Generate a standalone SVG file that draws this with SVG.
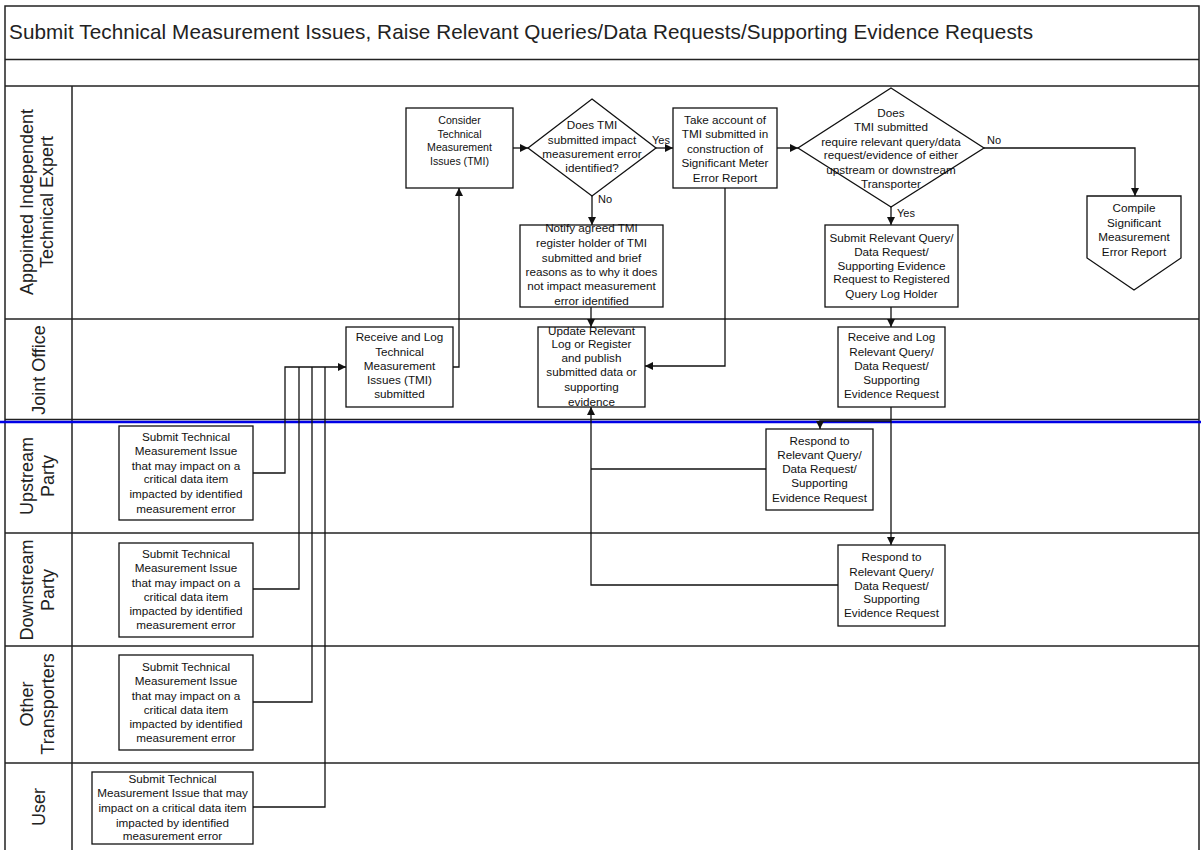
<svg xmlns="http://www.w3.org/2000/svg" width="1201" height="850" viewBox="0 0 1201 850">
<style>
.frame{fill:none;stroke:#222;stroke-width:1.5}
.lane{stroke:#222;stroke-width:1.5;fill:none}
.box{fill:#fff;stroke:#111;stroke-width:1.3}
.c{fill:none;stroke:#111;stroke-width:1.3}
.t{font-family:"Liberation Sans",Arial,sans-serif;font-size:11.7px;fill:#111;text-anchor:middle}
.ts{font-family:"Liberation Sans",Arial,sans-serif;font-size:10.6px;fill:#111;text-anchor:middle}
.lbl{font-family:"Liberation Sans",Arial,sans-serif;font-size:11px;fill:#111}
.ln{font-family:"Liberation Sans",Arial,sans-serif;font-size:18px;fill:#222;text-anchor:middle}
.title{font-family:"Liberation Sans",Arial,sans-serif;font-size:20.7px;fill:#222}
</style>
<defs>
<marker id="ah" viewBox="0 0 10 10" refX="10" refY="5" markerWidth="9" markerHeight="8" markerUnits="userSpaceOnUse" orient="auto">
<path d="M0,0 L10,5 L0,10 z" fill="#111"/>
</marker>
</defs>
<rect width="1201" height="850" fill="#fff"/>

<g id="frame">
<path class="frame" d="M5,852 V6 H1199 V852"/>
<line class="lane" x1="5" y1="59.5" x2="1199" y2="59.5"/>
<line class="lane" x1="5" y1="86" x2="1199" y2="86"/>
<line class="lane" x1="72" y1="86" x2="72" y2="852"/>
<line class="lane" x1="5" y1="319" x2="1199" y2="319"/>
<line class="lane" x1="5" y1="419.5" x2="1199" y2="419.5"/>
<line x1="0" y1="422" x2="1201" y2="422" stroke="#0000e6" stroke-width="2.4"/>
<line class="lane" x1="5" y1="533" x2="1199" y2="533"/>
<line class="lane" x1="5" y1="646" x2="1199" y2="646"/>
<line class="lane" x1="5" y1="763" x2="1199" y2="763"/>
<text class="title" x="9" y="39" textLength="1024" lengthAdjust="spacing">Submit Technical Measurement Issues, Raise Relevant Queries/Data Requests/Supporting Evidence Requests</text>
</g>

<g id="lane-labels">
<text class="ln" transform="translate(0,202) rotate(-90)"><tspan x="0" y="33">Appointed Independent</tspan><tspan x="0" y="53">Technical Expert</tspan></text>
<text class="ln" transform="translate(0,370) rotate(-90)"><tspan x="0" y="45">Joint Office</tspan></text>
<text class="ln" transform="translate(0,476) rotate(-90)"><tspan x="0" y="33">Upstream</tspan><tspan x="0" y="54">Party</tspan></text>
<text class="ln" transform="translate(0,590) rotate(-90)"><tspan x="0" y="33">Downstream</tspan><tspan x="0" y="54">Party</tspan></text>
<text class="ln" transform="translate(0,704) rotate(-90)"><tspan x="0" y="33">Other</tspan><tspan x="0" y="54">Transporters</tspan></text>
<text class="ln" transform="translate(0,807) rotate(-90)"><tspan x="0" y="45">User</tspan></text>
</g>

<g id="connectors">
<polyline class="c" points="453,367 459,367 459,188" marker-end="url(#ah)"/>
<line class="c" x1="513" y1="148" x2="528" y2="148" marker-end="url(#ah)"/>
<line class="c" x1="656" y1="148" x2="673" y2="148" marker-end="url(#ah)"/>
<line class="c" x1="592" y1="196" x2="592" y2="225" marker-end="url(#ah)"/>
<line class="c" x1="591" y1="307" x2="591" y2="327" marker-end="url(#ah)"/>
<polyline class="c" points="725,188 725,366 645,366" marker-end="url(#ah)"/>
<line class="c" x1="777" y1="148" x2="798" y2="148" marker-end="url(#ah)"/>
<polyline class="c" points="984,148 1135,148 1135,196" marker-end="url(#ah)"/>
<line class="c" x1="891" y1="207" x2="891" y2="225" marker-end="url(#ah)"/>
<line class="c" x1="891" y1="307" x2="891" y2="327" marker-end="url(#ah)"/>
<line class="c" x1="891" y1="407" x2="891" y2="545" marker-end="url(#ah)"/>
<polyline class="c" points="891,421 820,421 820,429" marker-end="url(#ah)"/>
<line class="c" x1="766" y1="469" x2="591" y2="469"/>
<polyline class="c" points="838,585 591,585 591,407" marker-end="url(#ah)"/>
<polyline class="c" points="253,473 285,473 285,367 346,367" marker-end="url(#ah)"/>
<polyline class="c" points="253,589 299,589 299,367"/>
<polyline class="c" points="253,702 312,702 312,367"/>
<polyline class="c" points="253,807 325,807 325,367"/>
<text class="lbl" x="652" y="144">Yes</text>
<text class="lbl" x="598" y="203">No</text>
<text class="lbl" x="987" y="144">No</text>
<text class="lbl" x="897" y="217">Yes</text>
</g>

<g id="consider">
<rect class="box" x="406" y="108" width="107" height="80"/>
<text class="ts"><tspan x="459.5" y="124">Consider</tspan><tspan x="459.5" y="137.5">Technical</tspan><tspan x="459.5" y="151">Measurement</tspan><tspan x="459.5" y="164.5">Issues (TMI)</tspan></text>
</g>

<g id="decision-impact">
<polygon class="box" points="592,99 656,148 592,196 528,148"/>
<text class="t"><tspan x="592" y="129">Does TMI</tspan><tspan x="592" y="144">submitted impact</tspan><tspan x="592" y="158">measurement error</tspan><tspan x="592" y="172">identified?</tspan></text>
</g>

<g id="take-account">
<rect class="box" x="673" y="108" width="104" height="80"/>
<text class="t"><tspan x="725" y="123.5">Take account of</tspan><tspan x="725" y="138">TMI submitted in</tspan><tspan x="725" y="152.5">construction of</tspan><tspan x="725" y="167">Significant Meter</tspan><tspan x="725" y="181.5">Error Report</tspan></text>
</g>

<g id="notify">
<rect class="box" x="520" y="225" width="143" height="82"/>
<text class="t"><tspan x="591.5" y="232">Notify agreed TMI</tspan><tspan x="591.5" y="247">register holder of TMI</tspan><tspan x="591.5" y="262">submitted and brief</tspan><tspan x="591.5" y="276">reasons as to why it does</tspan><tspan x="591.5" y="290">not impact measurement</tspan><tspan x="591.5" y="305">error identified</tspan></text>
</g>

<g id="decision-query">
<polygon class="box" points="891,88 984,148 891,207 798,148"/>
<text class="t"><tspan x="891" y="117">Does</tspan><tspan x="891" y="131">TMI submitted</tspan><tspan x="891" y="146">require relevant query/data</tspan><tspan x="891" y="159">request/evidence of either</tspan><tspan x="891" y="174">upstream or downstream</tspan><tspan x="891" y="188">Transporter</tspan></text>
</g>

<g id="submit-query">
<rect class="box" x="825" y="225" width="133" height="82"/>
<text class="t"><tspan x="891.5" y="242">Submit Relevant Query/</tspan><tspan x="891.5" y="256">Data Request/</tspan><tspan x="891.5" y="270">Supporting Evidence</tspan><tspan x="891.5" y="283">Request to Registered</tspan><tspan x="891.5" y="298">Query Log Holder</tspan></text>
</g>

<g id="compile-report">
<polygon class="box" points="1087,196 1181,196 1181,258 1134,290 1087,258"/>
<text class="t"><tspan x="1134" y="212">Compile</tspan><tspan x="1134" y="227">Significant</tspan><tspan x="1134" y="241">Measurement</tspan><tspan x="1134" y="256">Error Report</tspan></text>
</g>

<g id="receive-tmi">
<rect class="box" x="346" y="327" width="107" height="80"/>
<text class="t"><tspan x="399.5" y="341">Receive and Log</tspan><tspan x="399.5" y="356">Technical</tspan><tspan x="399.5" y="370">Measurement</tspan><tspan x="399.5" y="384">Issues (TMI)</tspan><tspan x="399.5" y="398">submitted</tspan></text>
</g>

<g id="update-log">
<rect class="box" x="538" y="327" width="107" height="80"/>
<text class="t"><tspan x="591.5" y="335">Update Relevant</tspan><tspan x="591.5" y="348">Log or Register</tspan><tspan x="591.5" y="362">and publish</tspan><tspan x="591.5" y="376">submitted data or</tspan><tspan x="591.5" y="391">supporting</tspan><tspan x="591.5" y="406">evidence</tspan></text>
</g>

<g id="receive-query">
<rect class="box" x="838" y="327" width="107" height="80"/>
<text class="t"><tspan x="891.5" y="341">Receive and Log</tspan><tspan x="891.5" y="356">Relevant Query/</tspan><tspan x="891.5" y="370">Data Request/</tspan><tspan x="891.5" y="384">Supporting</tspan><tspan x="891.5" y="398">Evidence Request</tspan></text>
</g>

<g id="respond-upstream">
<rect class="box" x="766" y="429" width="107" height="81"/>
<text class="t"><tspan x="819.5" y="445">Respond to</tspan><tspan x="819.5" y="459">Relevant Query/</tspan><tspan x="819.5" y="473">Data Request/</tspan><tspan x="819.5" y="487">Supporting</tspan><tspan x="819.5" y="502">Evidence Request</tspan></text>
</g>

<g id="respond-downstream">
<rect class="box" x="838" y="545" width="107" height="81"/>
<text class="t"><tspan x="891.5" y="561">Respond to</tspan><tspan x="891.5" y="576">Relevant Query/</tspan><tspan x="891.5" y="590">Data Request/</tspan><tspan x="891.5" y="603">Supporting</tspan><tspan x="891.5" y="617">Evidence Request</tspan></text>
</g>

<g id="submit-upstream">
<rect class="box" x="119" y="426" width="134" height="94"/>
<text class="t"><tspan x="186" y="441">Submit Technical</tspan><tspan x="186" y="455">Measurement Issue</tspan><tspan x="186" y="470">that may impact on a</tspan><tspan x="186" y="483">critical data item</tspan><tspan x="186" y="498">impacted by identified</tspan><tspan x="186" y="513">measurement error</tspan></text>
</g>

<g id="submit-downstream">
<rect class="box" x="119" y="543" width="134" height="94"/>
<text class="t"><tspan x="186" y="558">Submit Technical</tspan><tspan x="186" y="572">Measurement Issue</tspan><tspan x="186" y="587">that may impact on a</tspan><tspan x="186" y="601">critical data item</tspan><tspan x="186" y="615">impacted by identified</tspan><tspan x="186" y="629">measurement error</tspan></text>
</g>

<g id="submit-other">
<rect class="box" x="119" y="655" width="134" height="95"/>
<text class="t"><tspan x="186" y="671">Submit Technical</tspan><tspan x="186" y="685">Measurement Issue</tspan><tspan x="186" y="700">that may impact on a</tspan><tspan x="186" y="714">critical data item</tspan><tspan x="186" y="728">impacted by identified</tspan><tspan x="186" y="742">measurement error</tspan></text>
</g>

<g id="submit-user">
<rect class="box" x="92" y="772" width="161" height="72"/>
<text class="t"><tspan x="172.5" y="783">Submit Technical</tspan><tspan x="172.5" y="797">Measurement Issue that may</tspan><tspan x="172.5" y="812">impact on a critical data item</tspan><tspan x="172.5" y="827">impacted by identified</tspan><tspan x="172.5" y="840">measurement error</tspan></text>
</g>
</svg>
